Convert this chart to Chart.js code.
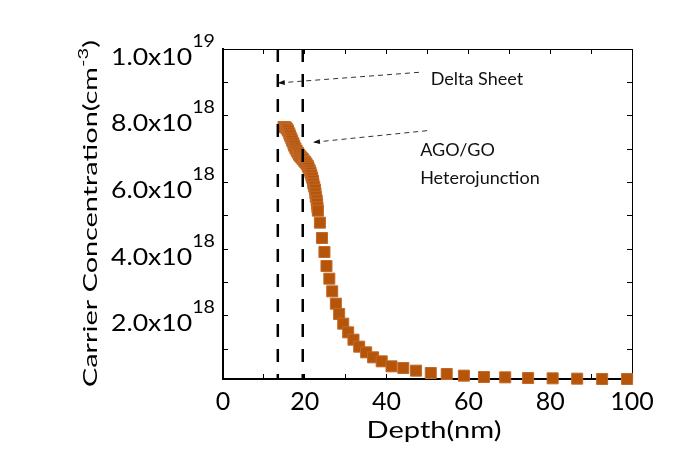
<!DOCTYPE html>
<html>
<head>
<meta charset="utf-8">
<script src="https://cdn.jsdelivr.net/npm/chart.js@4"></script>
<style>
  html, body { margin: 0; padding: 0; background: #fff; }
  #wrap { width: 699px; height: 455px; }
</style>
</head>
<body>
<div id="wrap"><canvas id="profileChart" width="699" height="455"></canvas></div>
<script>
// carrier profile vs depth (concentration in units of 1e18 cm^-3)
// dense run near the surface, sparser sampling deeper in
const depthNm = [
  14.8, 15.1, 15.4, 15.7, 15.9, 16.2, 16.4, 16.7, 16.9, 17.2,
  17.4, 17.7, 18.0, 18.3, 18.6, 18.9, 19.2, 19.5, 19.8, 20.1,
  20.4, 20.7, 20.9, 21.2, 21.4, 21.6, 21.8, 22.0, 22.1, 22.3,
  22.5, 22.6, 22.7, 22.9, 23.0, 23.1, 23.2, 23.7,
  24.2, 24.8, 25.3, 26.0, 26.7, 27.6, 28.4, 29.4, 30.6, 31.9,
  33.3, 35.0, 36.7, 38.8, 41.2, 44.1, 47.2, 50.8, 54.7, 58.9,
  63.8, 69.0, 74.6, 80.6, 86.6, 92.7, 98.8
];
const carrierE18 = [
  7.66, 7.66, 7.64, 7.60, 7.55, 7.47, 7.40, 7.32, 7.25, 7.17,
  7.10, 7.02, 6.95, 6.89, 6.83, 6.78, 6.74, 6.70, 6.65, 6.61,
  6.56, 6.50, 6.44, 6.36, 6.29, 6.22, 6.14, 6.05, 5.96, 5.87,
  5.78, 5.67, 5.57, 5.46, 5.36, 5.25, 5.15, 4.79,
  4.33, 3.91, 3.49, 3.11, 2.73, 2.36, 2.05, 1.76, 1.50, 1.28,
  1.07, 0.90, 0.75, 0.63, 0.48, 0.43, 0.35, 0.28, 0.25, 0.20,
  0.16, 0.15, 0.13, 0.12, 0.11, 0.10, 0.10
];

// marker lines for the delta sheet and the AGO/GO interface
const deltaSheetDepth = 13.4;
const heteroDepth = 19.5;

// axis ranges and labelled ticks
const xRange = [0, 100];
const yRange = [0.1, 10];
const xTickLabels = [0, 20, 40, 60, 80, 100];
const yTickLabels = [2, 4, 6, 8, 10];

// annotation anchors: [depth, conc]
const deltaText = [50.8, 8.93];
const agoText = [48.2, 6.80];
const heteroText = [48.2, 5.96];
const deltaArrow = [[47.9, 9.30], [13.4, 8.98]];
const agoArrow = [[49.9, 7.55], [22.0, 7.20]];

const FONT = "Lato, 'Open Sans', sans-serif";
const BROWN = "#b4550a";

// draw runs of text [text, size, rise] side by side, optionally squeezed/stretched to a width
function drawRuns(ctx, runs, x, y, align, targetWidth) {
  let natural = 0;
  const widths = runs.map(function (r) {
    ctx.font = r[1] + "px " + FONT;
    const w = ctx.measureText(r[0]).width;
    natural += w;
    return w;
  });
  const sx = targetWidth ? targetWidth / natural : 1;
  const total = natural * sx;
  let startX = x;
  if (align === "right") startX = x - total;
  if (align === "center") startX = x - total / 2;
  ctx.save();
  ctx.translate(startX, y);
  ctx.scale(sx, 1);
  ctx.textAlign = "left";
  ctx.textBaseline = "alphabetic";
  let cx = 0;
  runs.forEach(function (r, i) {
    ctx.font = r[1] + "px " + FONT;
    ctx.fillText(r[0], cx, -r[2]);
    cx += widths[i];
  });
  ctx.restore();
}

function drawArrow(ctx, x1, y1, x2, y2) {
  ctx.save();
  ctx.strokeStyle = "#333";
  ctx.lineWidth = 1;
  ctx.setLineDash([5, 4]);
  ctx.beginPath();
  ctx.moveTo(x1, y1);
  ctx.lineTo(x2, y2);
  ctx.stroke();
  const a = Math.atan2(y2 - y1, x2 - x1);
  const len = 7, half = 2.5;
  ctx.setLineDash([]);
  ctx.fillStyle = "#111";
  ctx.beginPath();
  ctx.moveTo(x2, y2);
  ctx.lineTo(x2 - len * Math.cos(a) + half * Math.sin(a), y2 - len * Math.sin(a) - half * Math.cos(a));
  ctx.lineTo(x2 - len * Math.cos(a) - half * Math.sin(a), y2 - len * Math.sin(a) + half * Math.cos(a));
  ctx.closePath();
  ctx.fill();
  ctx.restore();
}

// white page behind everything
const bgPlugin = {
  id: "bg",
  beforeDraw: function (chart) {
    const ctx = chart.ctx;
    ctx.save();
    ctx.fillStyle = "#fff";
    ctx.fillRect(0, 0, chart.width, chart.height);
    ctx.restore();
  },
};

// tick labels with superscripts, axis titles and the arrow notes
const textPlugin = {
  id: "texts",
  afterDraw: function (chart) {
    const ctx = chart.ctx;
    const xs = chart.scales.x;
    const ys = chart.scales.y;
    const area = chart.chartArea;
    ctx.save();
    ctx.fillStyle = "#000";

    xTickLabels.forEach(function (v) {
      drawRuns(ctx, [[String(v), 25, 0]], xs.getPixelForValue(v), area.bottom + 31, "center");
    });

    yTickLabels.forEach(function (v) {
      const exp = Math.floor(Math.log10(v * 1e18));
      const mant = (v * 1e18 / Math.pow(10, exp)).toFixed(1);
      const py = ys.getPixelForValue(v);
      drawRuns(ctx, [[mant + "x10", 23, 0], [String(exp), 17, 18]], area.left - 8, py + 15.5, "right", 104);
    });

    drawRuns(ctx, [["Depth(nm)", 24, 0]], 434, 438, "center", 135);

    ctx.save();
    ctx.translate(97, 387);
    ctx.rotate(-Math.PI / 2);
    drawRuns(ctx, [["Carrier Concentration(cm", 20, 0], ["-3", 14, 9], [")", 20, 0]], 0, 0, "left", 347);
    ctx.restore();

    ctx.fillStyle = "#111";
    drawRuns(ctx, [["Delta Sheet", 18, 0]], xs.getPixelForValue(deltaText[0]), ys.getPixelForValue(deltaText[1]), "left");
    drawRuns(ctx, [["AGO/GO", 18, 0]], xs.getPixelForValue(agoText[0]), ys.getPixelForValue(agoText[1]), "left");
    drawRuns(ctx, [["Heterojunction", 18, 0]], xs.getPixelForValue(heteroText[0]), ys.getPixelForValue(heteroText[1]), "left");

    [deltaArrow, agoArrow].forEach(function (arr) {
      drawArrow(ctx,
        xs.getPixelForValue(arr[0][0]), ys.getPixelForValue(arr[0][1]),
        xs.getPixelForValue(arr[1][0]), ys.getPixelForValue(arr[1][1]));
    });
    ctx.restore();
  },
};

function axisGrid() {
  return { drawOnChartArea: false, drawTicks: true, tickLength: -5, tickColor: "#000", tickWidth: 1 };
}

document.addEventListener("DOMContentLoaded", function () {
  const ctx = document.getElementById("profileChart").getContext("2d");

  const points = depthNm.map(function (d, i) {
    return { x: d, y: carrierE18[i] };
  });
  const vline = function (d) {
    return [{ x: d, y: yRange[1] }, { x: d, y: yRange[0] }];
  };

  new Chart(ctx, {
    type: "scatter",
    data: {
      datasets: [
        {
          data: vline(deltaSheetDepth),
          showLine: true,
          borderColor: "#000",
          borderWidth: 2.5,
          borderDash: [13, 12],
          pointRadius: 0,
          order: 0,
        },
        {
          data: vline(heteroDepth),
          showLine: true,
          borderColor: "#000",
          borderWidth: 2.5,
          borderDash: [13, 12],
          pointRadius: 0,
          order: 0,
        },
        {
          data: points,
          pointStyle: "rect",
          pointRadius: 7.8,
          pointHoverRadius: 7.8,
          backgroundColor: BROWN,
          borderColor: "#c26a2a",
          borderWidth: 1,
          clip: false,
          order: 1,
        },
      ],
    },
    options: {
      responsive: false,
      animation: false,
      devicePixelRatio: 1,
      layout: { padding: { left: 0, right: 67, top: 49, bottom: 0 } },
      plugins: {
        legend: { display: false },
        tooltip: { enabled: false },
      },
      scales: {
        x: {
          type: "linear",
          position: "bottom",
          min: xRange[0],
          max: xRange[1],
          afterFit: function (s) { s.height = 76; },
          ticks: { display: false, stepSize: 10 },
          grid: axisGrid(),
          border: { color: "#000", width: 2 },
        },
        x2: {
          type: "linear",
          position: "top",
          min: xRange[0],
          max: xRange[1],
          afterFit: function (s) { s.height = 0; },
          ticks: { display: false, stepSize: 10 },
          grid: axisGrid(),
          border: { color: "#000", width: 1 },
        },
        y: {
          type: "linear",
          position: "left",
          min: yRange[0],
          max: yRange[1],
          afterFit: function (s) { s.width = 223; },
          ticks: { display: false, stepSize: 1, includeBounds: false },
          grid: axisGrid(),
          border: { color: "#000", width: 2 },
        },
        y2: {
          type: "linear",
          position: "right",
          min: yRange[0],
          max: yRange[1],
          afterFit: function (s) { s.width = 0; },
          ticks: { display: false, stepSize: 1, includeBounds: false },
          grid: axisGrid(),
          border: { color: "#000", width: 1 },
        },
      },
    },
    plugins: [bgPlugin, textPlugin],
  });
});
</script>
</body>
</html>
